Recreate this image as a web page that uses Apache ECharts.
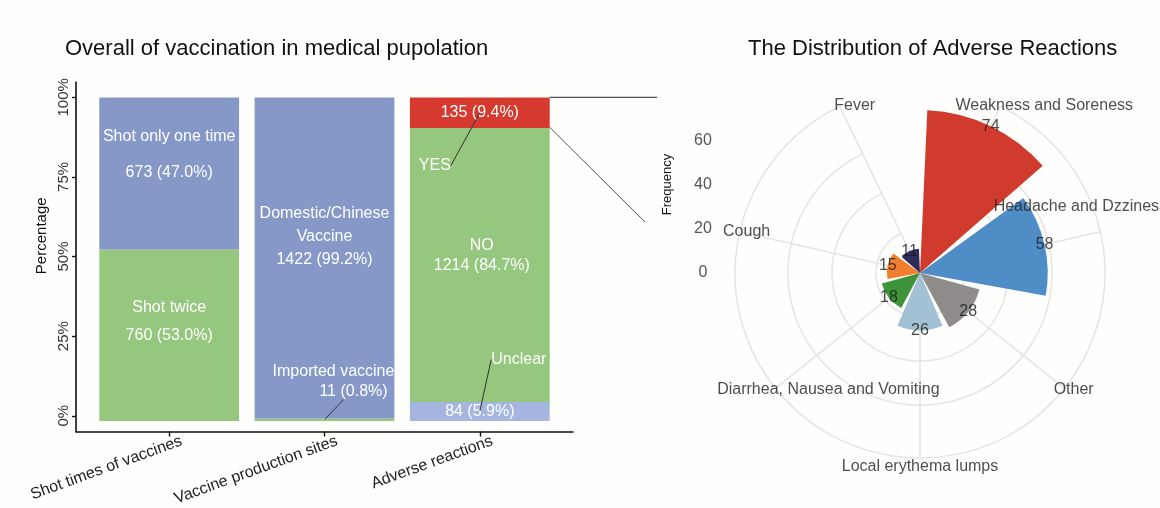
<!DOCTYPE html>
<html>
<head>
<meta charset="utf-8">
<script src="https://cdn.jsdelivr.net/npm/echarts@6/dist/echarts.min.js"></script>
<style>
  html, body { margin: 0; background: #fefefc; }
  #chart { width: 1160px; height: 508px; }
</style>
</head>
<body>
<div id="chart"></div>
<script>
// left panel, stacked percentage bars (bottom / middle / top segment of each bar)
const groups = ['Shot times of vaccines', 'Vaccine production sites', 'Adverse reactions']
const bottomNames = ['Shot twice', 'Imported vaccine', 'Unclear']
const bottomCounts = [760, 11, 84]
const bottomPct = [53.0, 0.8, 5.9]
const middleNames = ['', '', 'NO']
const middleCounts = [0, 0, 1214]
const middlePct = [0, 0, 84.7]
const topNames = ['Shot only one time', 'Domestic/Chinese\nVaccine', 'YES']
const topCounts = [673, 1422, 135]
const topPct = [47.0, 99.2, 9.4]
const pctTicks = [0, 25, 50, 75, 100]

// right panel, polar bars
const reactions = ['Weakness and Soreness', 'Headache and Dzziness', 'Other', 'Local erythema lumps',
  'Diarrhea, Nausea and Vomiting', 'Cough', 'Fever']
const reactionCounts = [74, 58, 28, 26, 18, 15, 11]
const freqTicks = [0, 20, 40, 60]

const GREEN = '#95c77e'
const BLUE = '#8598c8'
const RED = '#d63a2e'
const LIGHT = '#a6b4e0'
const reactionColors = ['#d13b2e', '#4f8dc6', '#8f8b8b', '#a3c1d4', '#3e9438', '#f0802f', '#2e2c5a']
const nameOffsets = [[44, -1], [-20, -25], [9, 1], [0, 9], [53, 1], [7, 0], [15, -1]]

const fmt = (c, p) => c + ' (' + p.toFixed(1) + '%)'
const white = { color: '#fff', fontSize: 16 }

// ggplot style: 0.6 category units of padding on each side of the bars
const plotLeft = 76, plotWidth = 497
const unit = plotWidth / 3.2

const chart = echarts.init(document.getElementById('chart'))

const bottomData = bottomPct.map((v, i) => {
  const item = { value: v, itemStyle: { color: i === 2 ? LIGHT : GREEN } }
  if (i === 0) {
    item.label = { show: true, position: ['50%', 44.5], align: 'center', verticalAlign: 'top', lineHeight: 28,
      formatter: bottomNames[i] + '\n' + fmt(bottomCounts[i], v) }
  } else if (i === 2) {
    item.label = { show: true, position: 'inside', formatter: fmt(bottomCounts[i], v) }
  }
  return item
})

const middleData = middlePct.map((v, i) => ({
  value: v,
  itemStyle: { color: GREEN },
  label: { show: v > 0, position: 'inside', offset: [2, -9], lineHeight: 20,
    formatter: middleNames[i] + '\n' + fmt(middleCounts[i], v) }
}))

const topData = topPct.map((v, i) => {
  const item = { value: v, itemStyle: { color: i === 2 ? RED : BLUE } }
  if (i === 0) {
    item.label = { show: true, position: ['50%', 21.5], align: 'center', verticalAlign: 'top', lineHeight: 36,
      formatter: topNames[i] + '\n' + fmt(topCounts[i], v) }
  } else if (i === 1) {
    item.label = { show: true, position: ['50%', 105], align: 'center', verticalAlign: 'top', lineHeight: 23,
      formatter: topNames[i] + '\n' + fmt(topCounts[i], v) }
  } else {
    item.label = { show: true, position: 'inside', formatter: fmt(topCounts[i], v) }
  }
  return item
})

const pctMin = -4.95, pctMax = 104.8

chart.setOption({
  animation: false,
  backgroundColor: '#fefefc',
  textStyle: { fontFamily: 'Liberation Sans, Arial, sans-serif' },
  title: [
    { text: 'Overall of vaccination in medical pupolation', left: 60, top: 33,
      textStyle: { fontSize: 22, fontWeight: 'normal', color: '#111' } },
    { text: 'The Distribution of Adverse Reactions', left: 743, top: 33,
      textStyle: { fontSize: 22, fontWeight: 'normal', color: '#111' } }
  ],
  grid: [
    { left: plotLeft, top: 82, width: plotWidth, height: 355 },
    { left: 715, top: 88, width: 10, height: 185 },
    { left: plotLeft + 0.6 * unit - unit / 2, top: 82, width: 3 * unit, height: 355 }
  ],
  xAxis: [
    {
      gridIndex: 0, type: 'value', min: -0.6, max: 2.6,
      axisLine: { show: true, onZero: false, lineStyle: { color: '#111', width: 1.6 } },
      axisTick: { show: true, length: 5, customValues: [0, 1, 2], lineStyle: { color: '#111', width: 1.4 } },
      axisLabel: { customValues: [0.08, 1.08, 2.08], formatter: v => groups[Math.round(v)], rotate: 20, margin: 9,
        fontSize: 16, color: '#222' },
      splitLine: { show: false }
    },
    { gridIndex: 1, type: 'value', show: false },
    { gridIndex: 2, type: 'category', data: groups, show: false }
  ],
  yAxis: [
    {
      gridIndex: 0, type: 'value', min: pctMin, max: pctMax,
      axisLine: { show: true, onZero: false, lineStyle: { color: '#111', width: 1.6 } },
      axisTick: { show: true, length: 4, customValues: pctTicks, lineStyle: { color: '#111', width: 1.4 } },
      axisLabel: { customValues: pctTicks, rotate: 90, margin: 5, formatter: v => v + '%', color: '#333', fontSize: 15 },
      splitLine: { show: false },
      name: 'Percentage', nameLocation: 'middle', nameGap: 27, nameRotate: 90,
      nameTextStyle: { fontSize: 15, color: '#111', padding: [0, 0, 0, 42] }
    },
    {
      gridIndex: 1, type: 'value', min: 0, max: 84,
      axisLine: { show: false }, axisTick: { show: false }, splitLine: { show: false },
      axisLabel: { customValues: freqTicks, margin: 12, align: 'center', color: '#555', fontSize: 16 },
      name: 'Frequency', nameLocation: 'middle', nameGap: 41, nameRotate: 90,
      nameTextStyle: { fontSize: 13, color: '#111', padding: [0, 8, 0, 0] }
    },
    { gridIndex: 2, type: 'value', min: pctMin, max: pctMax, show: false }
  ],
  polar: { center: [920, 273], radius: 185 },
  angleAxis: {
    type: 'category', data: reactions, boundaryGap: false,
    startAngle: 90 - 180 / reactions.length, clockwise: true,
    axisLine: { show: true, lineStyle: { color: '#e4e4e4', width: 1.5 } },
    axisTick: { show: false }, axisLabel: { show: false },
    splitLine: { show: true, lineStyle: { color: '#e4e4e4', width: 1.5 } }
  },
  radiusAxis: {
    min: 0, max: 84,
    axisLine: { show: false }, axisLabel: { show: false },
    axisTick: { show: false, customValues: [20, 40, 60] },
    splitLine: { show: true, lineStyle: { color: '#e4e4e4', width: 1.5 } }
  },
  series: [
    { type: 'bar', name: 'bottom', xAxisIndex: 2, yAxisIndex: 2, stack: 'pct', barWidth: '90%', label: white, data: bottomData },
    { type: 'bar', name: 'middle', xAxisIndex: 2, yAxisIndex: 2, stack: 'pct', barWidth: '90%', label: white, data: middleData },
    { type: 'bar', name: 'top', xAxisIndex: 2, yAxisIndex: 2, stack: 'pct', barWidth: '90%', label: white, data: topData },
    {
      // labels pulled out of the thin segments, with leader lines
      type: 'scatter', xAxisIndex: 2, yAxisIndex: 2, symbolSize: 1, itemStyle: { color: 'rgba(0,0,0,0)' }, silent: true,
      data: [
        { value: [2, 100 - topPct[2] / 2], name: topNames[2] },
        { value: [2, bottomPct[2] / 2], name: bottomNames[2] },
        { value: [1, bottomPct[1] / 2], name: bottomNames[1] }
      ],
      label: {
        show: true, position: 'inside', color: '#fff', fontSize: 16, opacity: 1, textBorderWidth: 0,
        formatter: p => p.dataIndex < 2 ? p.name
          : '{a|' + p.name + '}\n{b|' + fmt(bottomCounts[1], bottomPct[1]) + '}',
        rich: { a: { color: '#fff', fontSize: 16, padding: [0, 20, 0, 0], lineHeight: 20 },
                b: { color: '#fff', fontSize: 16, padding: [0, 0, 0, 20], lineHeight: 20 } }
      },
      labelLine: { show: true, lineStyle: { color: '#333', width: 1 } },
      labelLayout: p => [{ dx: -45, dy: 53 }, { dx: 39, dy: -52 }, { dx: 19, dy: -38 }][p.dataIndex]
    },
    {
      type: 'bar', coordinateSystem: 'polar', barCategoryGap: '10%',
      data: reactionCounts.map((v, i) => ({ value: v, itemStyle: { color: reactionColors[i] } }))
    },
    {
      type: 'scatter', coordinateSystem: 'polar', symbolSize: 0, silent: true,
      data: reactionCounts.map((v, i) => [v, i]),
      label: { show: true, position: 'inside', formatter: p => p.value[0], color: '#1a1a1a', fontSize: 16 }
    },
    {
      type: 'scatter', coordinateSystem: 'polar', symbolSize: 0, silent: true, clip: false,
      data: reactions.map((r, i) => ({ value: [84, i], name: r, label: { offset: nameOffsets[i] } })),
      label: { show: true, position: 'inside', formatter: p => p.name, color: '#222', fontSize: 16 }
    }
  ]
})

// connector lines from the YES segment towards the rose chart
const pTop = chart.convertToPixel({ gridIndex: 0 }, [2.45, 100])
const pLow = chart.convertToPixel({ gridIndex: 0 }, [2.45, 100 - topPct[2]])
chart.setOption({
  graphic: [
    { type: 'line', shape: { x1: pTop[0], y1: pTop[1], x2: 657, y2: pTop[1] }, style: { stroke: '#222', lineWidth: 1 } },
    { type: 'line', shape: { x1: pLow[0], y1: pLow[1], x2: 645, y2: 222 }, style: { stroke: '#555', lineWidth: 1 } }
  ]
})
</script>
</body>
</html>
